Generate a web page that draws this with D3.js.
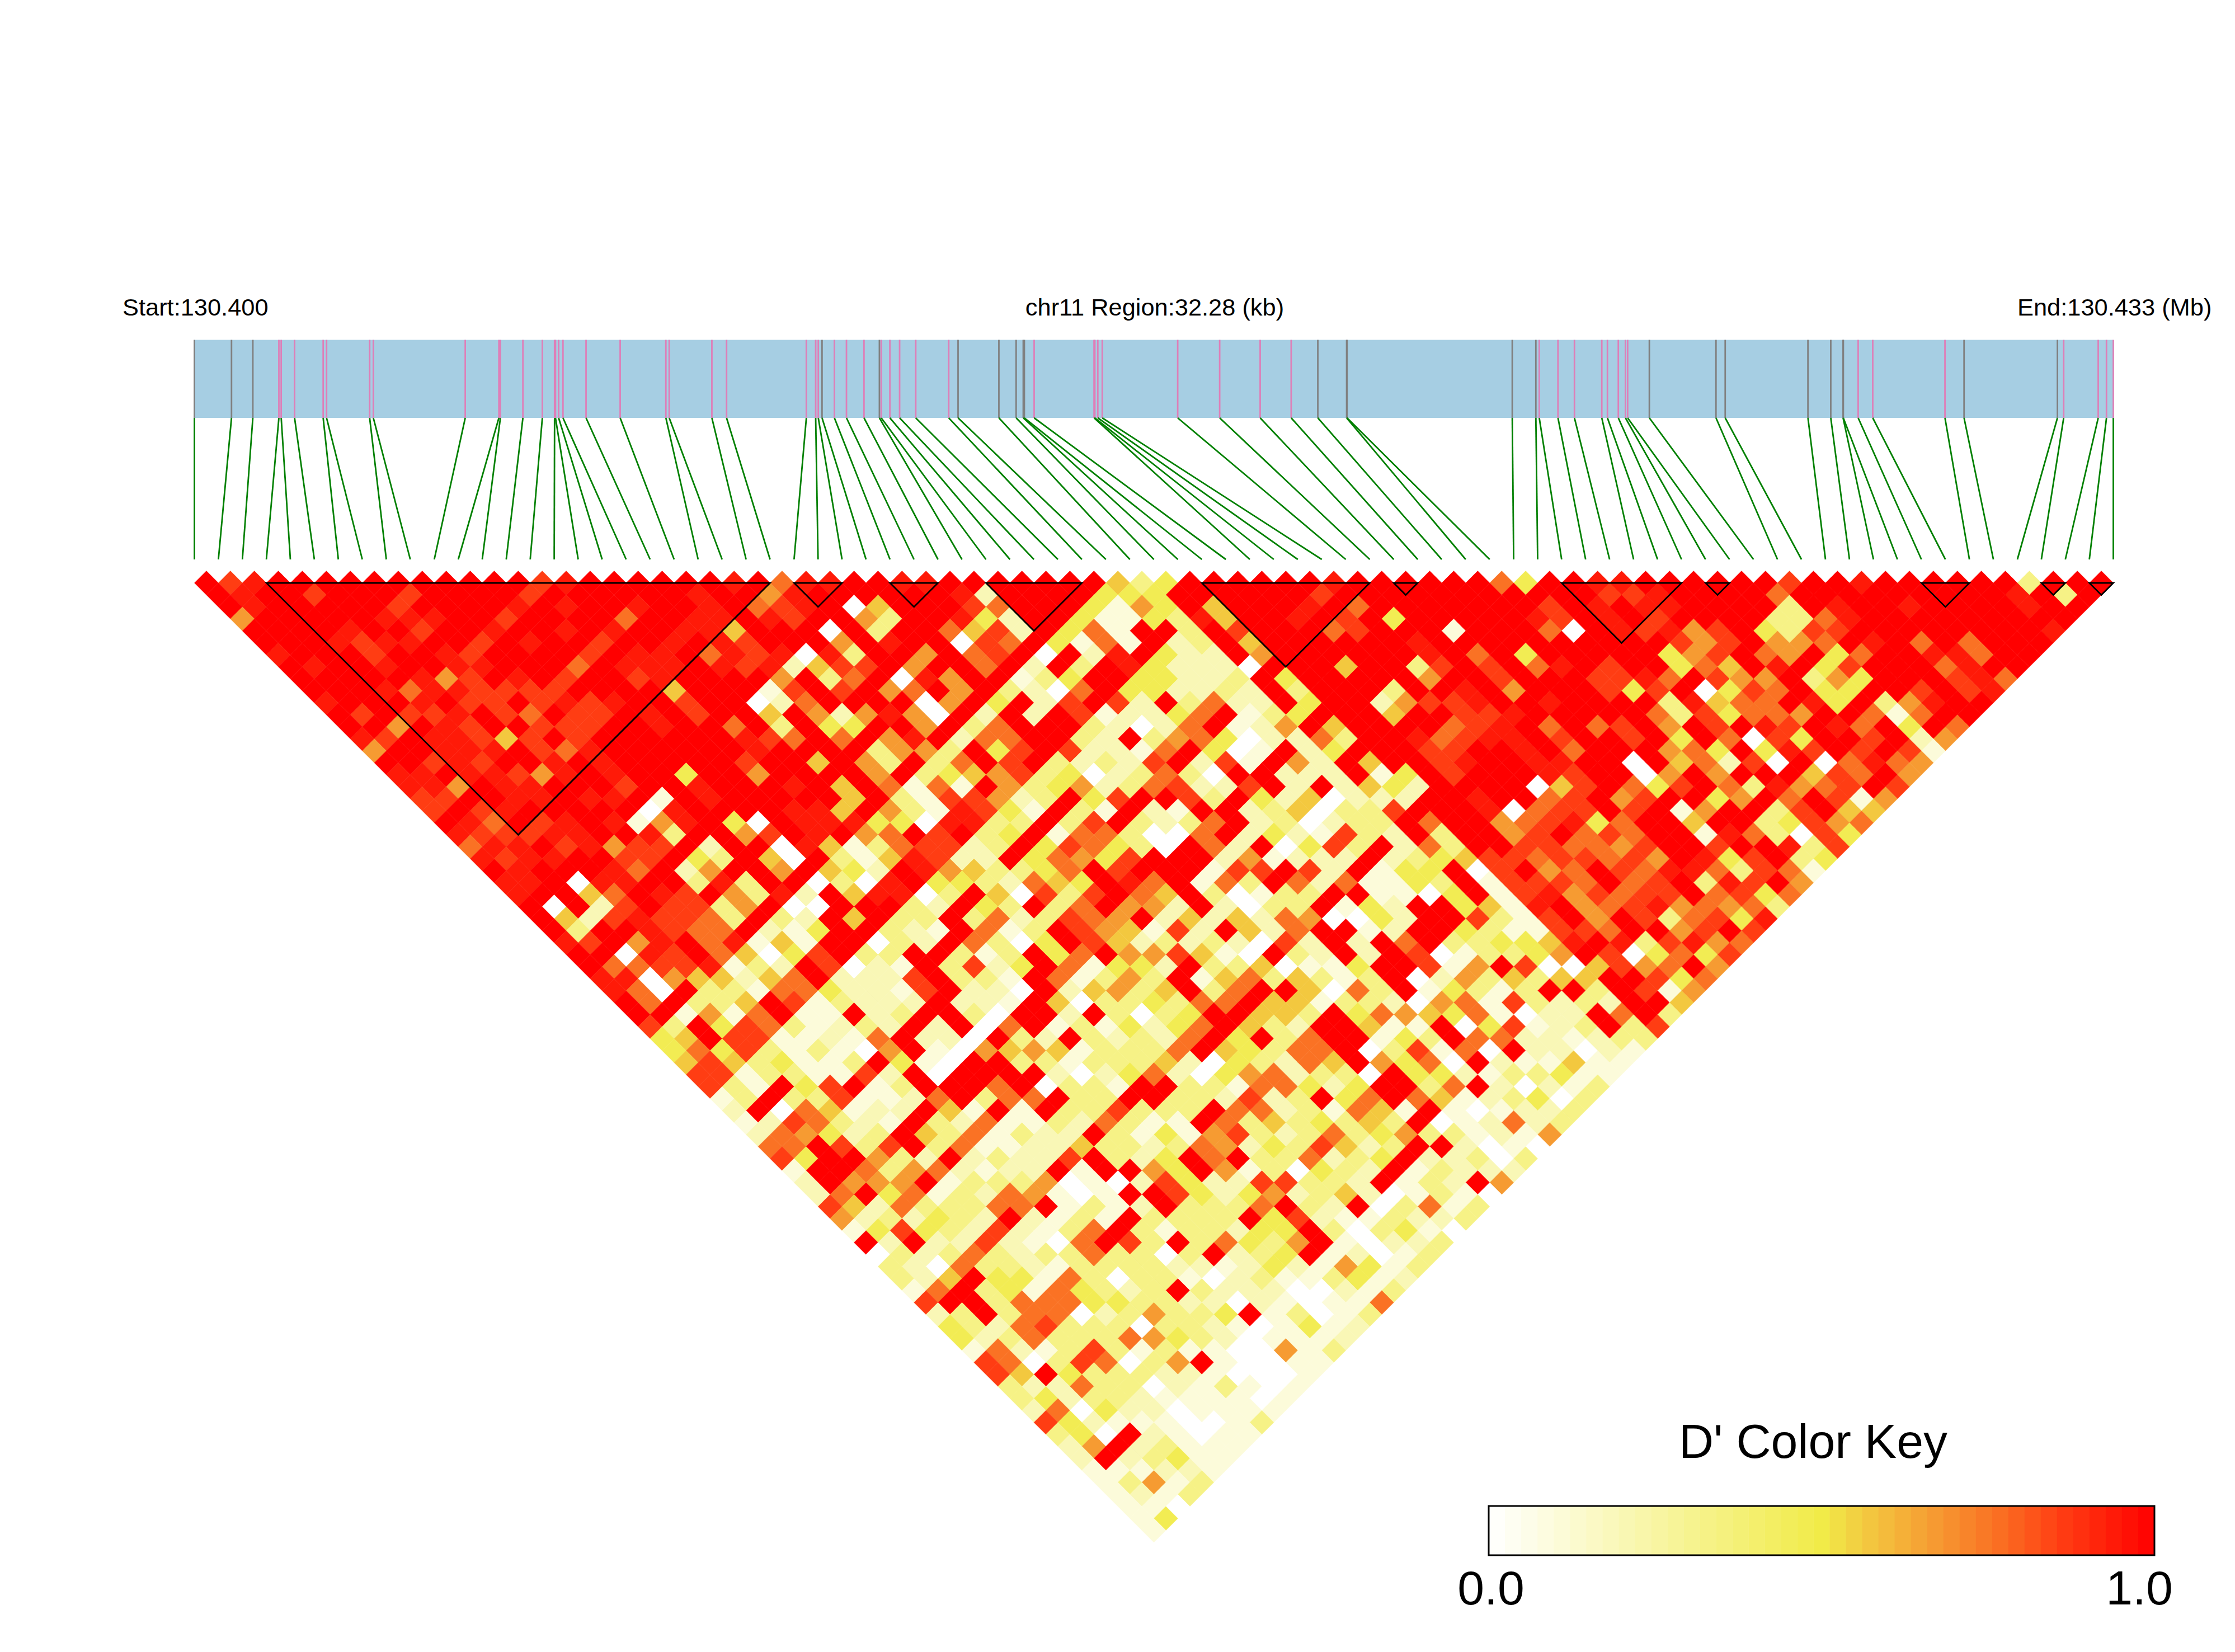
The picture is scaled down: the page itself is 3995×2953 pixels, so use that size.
<!DOCTYPE html>
<html><head><meta charset="utf-8">
<script src="https://cdn.jsdelivr.net/npm/d3@7"></script>
<style>html,body{margin:0;padding:0;background:#fff}svg{display:block}text{font-family:"Liberation Sans",Arial,sans-serif;fill:#000}</style>
</head><body>
<script>
// SNP positions in kb from the region start
const snpKb=[0,.624,.983,1.421,1.46,1.685,2.166,2.223,2.948,3.01,4.556,5.122,5.147,5.526,5.853,6.059,6.074,6.127,6.2,6.588,7.162,7.931,7.987,8.705,8.952,10.294,10.451,10.495,10.558,10.766,10.969,11.264,11.523,11.554,11.699,11.863,12.134,12.689,12.846,13.533,13.823,13.943,13.961,14.126,15.134,15.147,15.197,15.272,16.541,17.247,17.928,18.45,18.898,19.383,19.39,22.169,22.566,22.623,22.938,23.215,23.675,23.77,23.953,24.073,24.11,24.475,25.596,25.751,27.143,27.527,27.734,27.738,27.988,28.233,29.448,29.769,31.34,31.445,32.026,32.165,32.28];
// SNPs drawn with a grey tick; every other tick is pink
const greySnps=[0,1,2,28,32,38,39,40,41,42,52,53,54,55,56,65,66,67,68,69,70,71,75,76];
// Haplotype blocks as [first SNP, last SNP]
const blocks=[[3,24],[25,27],[29,31],[33,37],[42,49],[50,51],[57,62],[63,64],[72,74],[77,78],[79,80]];
// D' level codes
const levelValues={0:0,1:.1,2:.2,3:.33,4:.47,5:.57,6:.67,7:.76,8:.86,9:.94,a:1};
// One string per distance row; groups are 20 half-steps wide
const rows=[
"a89aaaaaaa aaaa89aaaa aa9a799aa9 9aaaaaaa53 4aaaaaa9aa aaaa74aa99 aaaaaa8aa9 aaaaaa3aaa",
"a9aa8aaa8 aaaa8aaaaa a9aa69aaaa aa92aaaa44 4aaaaaa8aa aaaaaaaaa8 89aaaa7aaa aaaaaa9a3a",
"a9aaaaa8a aaa9a9aa9a a9a789a05a aa87aaa416 4a5aaa9a7a aaaaaa8a9a 99aaaa3a9a a9aaaa9aa",
"6aaaaa99 9aa8aaaa7a a99a98aa63 aa942aa411 4395aa9a8a 4aaaaa98a9 a8aaaa3379 aaaaaaaaa",
"aaaa9aa8 aa9aa9a9aa 995aaa0a3a a7582a471a a3a8aaa78a aa1aaa70a9 8968a4388a aaaaaaa9",
"aaa9899 aa8a9aa8aa 9a98aaa6a9 aa087a4171 a23a5aaaaa a9aaaaaaaa aa868a667a 9a7a7aaa",
"9aaa8aa 98aaaa8a99 a7989093aa 6a78a0a29a 422a6aaaaa a9a7a4aaaa a468a76a47 aa997aa",
"a9aa9a a99aaa7a99 9a9892588a 6aa7a2a3a9 42220aaa5a a38a8a79a8 aa475a9a48 aaa79aa",
"aaaaa9 68a9a8aa89 aaaa6a37a0 96aa134aa4 4223a4aaaa a6aa8aaa88 97a866a364 aaa897",
"aaa97 998888aaaa 5aaa18a8a6 7a6a3207a4 42232a3aaa 3aa9a6aaa8 48a0487a44 aa8a89",
"9aaa9 a88a8989aa 8aa027aaaa 06a4a28a82 a3722a4aa2 6889aa9aaa a39577a94a 369aa",
"a8a8 89a87a88a9 a8aa5a6269 60a2a2a812 247a134aaa 5aa889aaaa a7384776aa 717aa",
"aa6a 98aa888aa9 aa7a3a44aa 6a37aaa320 27a126a5aa aa789a7a78 a6a8a98a97 a4a7",
"98a 99858a8aaa aaa987a7a6 9a277aa32a 367402273a a97899a8aa 8a4a7084aa 8a26",
"6aa 999a879aaa aaa9aaaa36 63a48a8221 7a401a24aa a88aa9a7aa a674a498a8 a81",
"aa 898aa9a9aa aaa8aa5a63 a37a8a3232 8a281a62a5 aa89aa99aa 0a57280a07 976",
"99 a99869a9aa 4aa6aaaa6a 3456834023 730aa222a1 4a8aaa98aa 06a6aaa587 a6",
"9 96a99aaa8a a9aaa9a5a7 171a634623 78228a2a25 42aaaa058a 748a739678 a8",
"8 8aa99a99a1 a9aaaaa5a3 188623a48a a83a425022 2aa9aa78a6 8aa46a7a81 6",
"8a89aaaaa0 9aaaa995a6 319841a31a 21aa235033 8aaa90788a 8a16aa38a5 5",
"a97a89a916 9a40a99944 09933a38a3 237a230233 a7aa678947 aa5aa34867",
"988899aa9 3aa68a9a67 a8a34a1773 007a242183 2a3aa68a78 7aa1973084",
"799a89688 a2aa095137 8823a48743 0a72a0483a 273aa88776 8aa8aa938",
"9899aa88 a43a50a315 9822a47648 aaa261222a 2345887887 86a948a34",
"a9aaa97a 26aa6a542a 9653347a8a aa188a82a1 44a08a67a8 79973871",
"99a099a a393aa0309 a4432754a9 7a173a7271 143a18887a 78a398a6",
"9aa57a9 8a6392a599 03a50838a7 5a30133aa1 104a189687 88a7847",
"a0a28a 8836a00aaa 32a43a37a6 62a2033a14 2aa4519a67 8967673",
"a52898 873a32a5a3 3a3723876a 2525276004 2aa8318a6a 837849",
"a3aa9 877a214aa3 21a713a865 182a527aa1 2aa4311887 aa68a8",
"98a69 a79151aa03 2a7304a852 3232082a2a 7a334459a9 38967",
"aa09 8a75048a33 aa313a47a6 68510a32a2 a8013346a8 04748",
"a778 89132a8021 a3824a7144 2a3350114a a816a80058 67a6",
"990 655257a222 8a331a7136 3a15735313 a02635355a a847",
"970 a331774221 8a220a2563 5a37aa5073 a14313aa3a 816",
"a7 a335a81322 2a221a5033 4377a55133 2067183232 aa5",
"aa 1617a11a23 aa30aa2a30 34aa553a47 65471022a7 a3",
"8 3a48731232 a2a07a1314 247a532aa5 11a048123a 38",
"4 5a8811217a 220a32a323 27a4a37aa1 43a7722123 3",
"4748313106 a106565133 37a54377a0 38170a2202 1",
"58534113a4 10aa331333 52043275a6 470a211511",
"881331182 a0aaaa2024 7204672330 a442133411",
"831a48a13 aaa7a0331a a33177424a a37a20213",
"13a33811 27a377a33a a332823a47 a75123403",
"2a075122 a51a1a3383 33a7723175 1a101223",
"1287321 a327113273 11a7353435 3a012723",
"276423a 5371322a31 4168323734 6331216",
"77a838 a371122533 2376243852 3aa2010",
"84aa63 2a23228a32 4a7a337234 a22303",
"1aa73 672122a1aa 64a6130432 a13222",
"2a666 a133360102 842288332a 132a6",
"27a4 713276101a a842462352 01310",
"8527 33377a1312 a3337a32a0 3713",
"623 2432a2131a 3333a48211 3223",
"148 43282137a3 133244a303 410",
"a2 a2282107a8 3a37436a10 223",
"03 2373233733 03a234a120 13",
"3 2073321333 3221242164 13",
"3 25a4417303 3102311341 2",
"17a3417432 3a32220021 3",
"8aa3777443 3220210117",
"23a377023 6334a13013",
"432783330 332101412",
"42373337 643201112",
"17213831 31100613",
"8703870 36a10011",
"85a4333 2210001",
"322733 0213101",
"342332 111101",
"27042 201111",
"84211 10013",
"340a 21011",
"26a2 3111",
"2a2 3411",
"111 221",
"13 613",
"12 13",
"1 10",
"1 4",
"1"
];
const colorStops=[0,.5,.573,.669,.765,.866,1];
const colorRange=["#ffffff","#f1eb48","#f3c63f","#f69b32","#fa7023","#ff3a12","#ff0000"];
const keyTicks=["0.0","1.0"];
const keySteps=41;
const startLabel="Start:130.400",midLabel="chr11 Region:32.28 (kb)",endLabel="End:130.433 (Mb)",keyTitle="D' Color Key";

const W=3995,H=2953,font=43.4;
const svg=d3.select("body").append("svg").attr("width",W).attr("height",H).attr("viewBox",`0 0 ${W} ${H}`);
svg.append("rect").attr("width",W).attr("height",H).attr("fill","#fff");
const color=d3.scaleLinear().domain(colorStops).range(colorRange).interpolate(d3.interpolateRgb).clamp(true);
const xKb=d3.scaleLinear().domain([0,32.28]).range([347.5,3777.5]);
const xP=d3.scaleLinear().domain([0,160]).range([347.5,3777.5]);
const yK=d3.scaleLinear().domain([0,79]).range([1042,1042+79*21.4375]);
const barTop=607.5,barBottom=747,lineBottom=1000;

// labels
svg.append("text").attr("x",219).attr("y",564).attr("font-size",font).text(startLabel);
svg.append("text").attr("x",2064).attr("y",564).attr("text-anchor","middle").attr("font-size",font).text(midLabel);
svg.append("text").attr("x",3606).attr("y",564).attr("font-size",font).text(endLabel);

// gene bar and SNP ticks
svg.append("rect").attr("x",xKb(0)).attr("y",barTop).attr("width",xKb(32.28)-xKb(0)).attr("height",barBottom-barTop).attr("fill","#a6cee3");
svg.append("g").selectAll("line").data(snpKb).join("line")
  .attr("x1",d=>xKb(d)).attr("x2",d=>xKb(d)).attr("y1",barTop).attr("y2",barBottom)
  .attr("stroke",(d,i)=>greySnps.includes(i)?"#808080":"#de7fb8").attr("stroke-width",2.8);
svg.append("g").selectAll("line").data(snpKb).join("line")
  .attr("x1",d=>xKb(d)).attr("y1",barBottom).attr("x2",(d,i)=>xP(2*i)).attr("y2",lineBottom)
  .attr("stroke","#008000").attr("stroke-width",2.8);

// LD cells: the first group of a row starts at the row's left edge
const cells=[];
rows.forEach((row,k)=>{
  const g0=Math.floor((k+1)/20);
  row.split(" ").forEach((part,idx)=>{
    const s= idx===0 ? k+1 : 20*(g0+idx)+(k%2===0?1:0);
    [...part].forEach((c,t)=>{
      const p=s+2*t;
      if(p<=159-k) cells.push({p,k,v:levelValues[c]});
    });
  });
});
const dx=xP(1)-xP(0), dy=yK(1)-yK(0);
svg.append("g").selectAll("path").data(cells).join("path")
  .attr("d",d=>{const x=xP(d.p),y=yK(d.k);return `M${x},${y-dy}L${x+dx},${y}L${x},${y+dy}L${x-dx},${y}Z`;})
  .attr("fill",d=>color(d.v)).attr("stroke",d=>color(d.v)).attr("stroke-width",.5);

// blocks
svg.append("g").selectAll("path").data(blocks).join("path")
  .attr("d",([a,b])=>`M${xP(2*a)},${yK(0)}L${xP(2*b)},${yK(0)}L${xP(a+b)},${yK(b-a)}Z`)
  .attr("fill","none").attr("stroke","#000").attr("stroke-width",2.8).attr("stroke-linejoin","miter");

// colour key
const keyX=d3.scaleLinear().domain([0,1]).range([2661,3851]);
const keyTop=2692,keyBottom=2780;
const steps=d3.range(keySteps);
svg.append("g").selectAll("rect").data(steps).join("rect")
  .attr("x",i=>keyX(i/keySteps)).attr("width",i=>keyX((i+1)/keySteps)-keyX(i/keySteps)+.4)
  .attr("y",keyTop).attr("height",keyBottom-keyTop).attr("fill",i=>color((i+.5)/keySteps));
svg.append("rect").attr("x",keyX(0)).attr("y",keyTop).attr("width",keyX(1)-keyX(0)).attr("height",keyBottom-keyTop).attr("fill","none").attr("stroke","#000").attr("stroke-width",3);
svg.append("text").attr("x",3001).attr("y",2606).attr("font-size",86).text(keyTitle);
svg.append("text").attr("x",keyX(0)+4).attr("y",2868).attr("text-anchor","middle").attr("font-size",86).text(keyTicks[0]);
svg.append("text").attr("x",3824).attr("y",2868).attr("text-anchor","middle").attr("font-size",86).text(keyTicks[1]);
</script>
</body></html>
